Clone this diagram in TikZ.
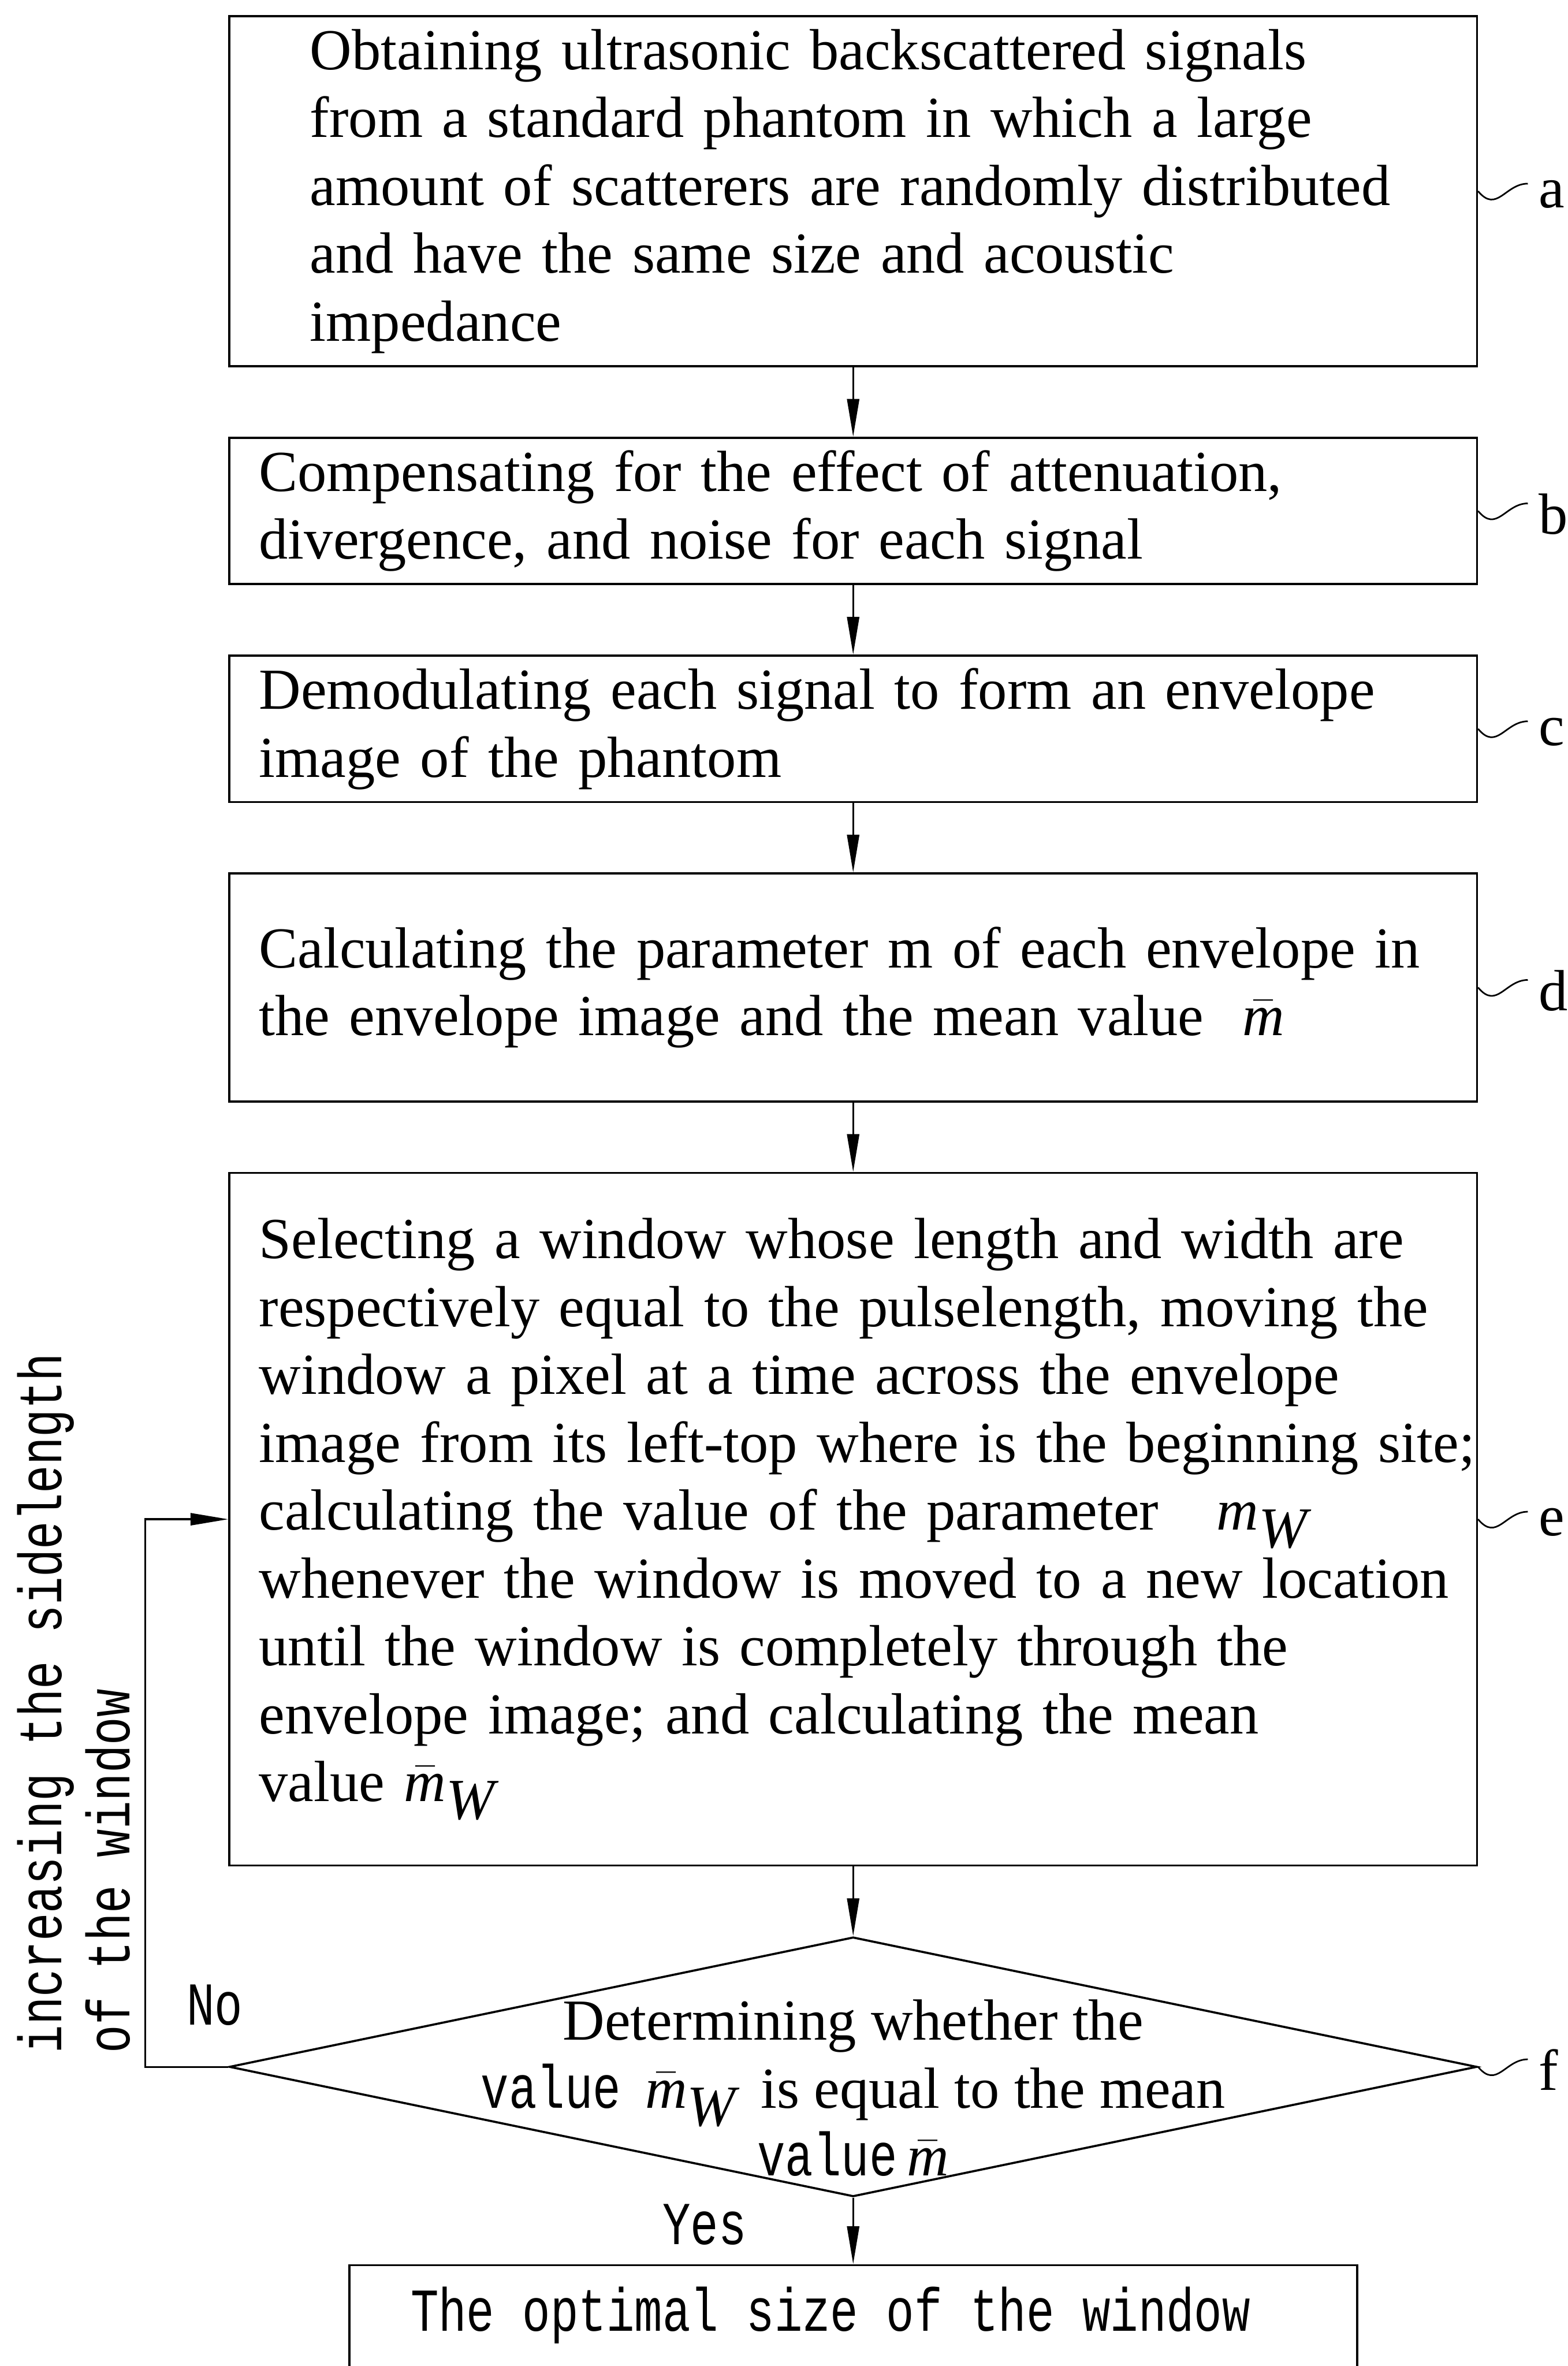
\documentclass[tikz,border=0pt]{standalone}
\usepackage{fix-cm}
\usepackage{fontspec}
\setmainfont{Liberation Serif}
\newfontfamily\monofam[FakeStretch=0.765]{Liberation Mono}
\usepackage{tikz}
\usetikzlibrary{shapes,arrows,arrows.meta,positioning,calc}

\newcommand{\bodysize}{\fontsize{21.9pt}{25.6pt}\selectfont}
\newcommand{\monosize}{\monofam\fontsize{23pt}{25.6pt}\selectfont}
\newcommand{\mv}{\textit{m}}
\newcommand{\wv}{\textit{W}}

\tikzset{
  stepbox/.style={draw, line width=0.8pt, minimum width=16.54cm, inner xsep=0.395cm, inner ysep=0pt, text width=15.75cm, align=left, font=\bodysize},
  decision/.style={draw, diamond, line width=0.8pt, minimum width=16.54cm, minimum height=3.44cm, inner sep=0pt},
  tag/.style={font=\bodysize, inner sep=0pt, anchor=west},
  leader/.style={line width=0.6pt},
  flow/.style={->, line width=0.7pt},
}

\begin{document}
\begin{tikzpicture}[>={Triangle[length=0.5cm,width=0.16cm]}]
\useasboundingbox (0,0) rectangle (20.78,-31.36);

% Process steps
\node[stepbox, minimum height=4.64cm, text width=14.4cm, inner xsep=1.07cm, anchor=north] (a) at (11.31,-0.2) {
Obtaining ultrasonic backscattered signals\\
from a standard phantom in which a large\\
\mbox{amount of scatterers are randomly distributed}\\
and have the same size and acoustic\\
impedance};
\node[stepbox, minimum height=1.94cm, below=0.92cm of a] (b) {
Compensating for the effect of attenuation,\\
divergence, and noise for each signal};
\node[stepbox, minimum height=1.94cm, below=0.92cm of b] (c) {
Demodulating each signal to form an envelope\\
image of the phantom};
\node[stepbox, minimum height=3.02cm, below=0.92cm of c] (d) {
\mbox{Calculating the parameter m of each envelope in}\\
the envelope image and the mean value \ $\bar{\mv}$};
\node[stepbox, minimum height=9.18cm, below=0.92cm of d] (e) {
Selecting a window whose length and width are\\
\mbox{respectively equal to the pulselength, moving the}\\
window a pixel at a time across the envelope\\
\mbox{image from its left-top where is the beginning site;}\\
calculating the value of the parameter \ \ $\mv_{\wv}$\\
\mbox{whenever the window is moved to a new location}\\
until the window is completely through the\\
envelope image; and calculating the mean\\
value $\bar{\mv}_{\wv}$};

% Decision
\node[decision, below=0.92cm of e] (f) {};
\node[font=\bodysize, align=center, inner sep=0pt] (ftext) at ($(f)+(0,-0.28)$) {
Determining whether the\\
{\monosize value}\ \,$\bar{\mv}_{\wv}$\ \,is equal to the mean\\
{\monosize value}\,$\bar{\mv}$};

% Result (cut by the page edge)
\node[draw, line width=0.8pt, minimum width=13.36cm, minimum height=2.5cm, inner sep=0pt, below=0.88cm of f] (g) {};
\node[font=\monosize, inner sep=0pt] (gtext) at ($(g.north)+(-0.3,-0.68)$) {The optimal size of the window};

% Flow
\draw[flow] (a) -- (b);
\draw[flow] (b) -- (c);
\draw[flow] (c) -- (d);
\draw[flow] (d) -- (e);
\draw[flow] (e) -- (f);
\draw[flow] (f.south) -- (g.north);
\draw[flow] (f.west) -- ++(-1.1,0) |- (e.west);

\node[font=\monosize, inner sep=0pt] (no) at ($(f.west)+(-0.18,0.82)$) {No};
\node[font=\monosize, inner sep=0pt] (yes) at ($(f.south)+(-1.97,-0.36)$) {Yes};
\node[font=\monosize, rotate=90, anchor=west, align=left, inner sep=0pt] (incr) at (0.98,-27.22) {increasing the sidelength\\of the window};

% Step tags
\foreach \s in {a,b,c,d,e,f} {
  \node[tag] (l\s) at ($(\s.east)+(0.8,-0.04)$) {\s};
  \draw[leader] (\s.east) .. controls +(0.25,-0.3) and +(-0.3,0) .. ([shift={(-0.14,0.14)}]l\s.west);
}

\end{tikzpicture}
\end{document}
